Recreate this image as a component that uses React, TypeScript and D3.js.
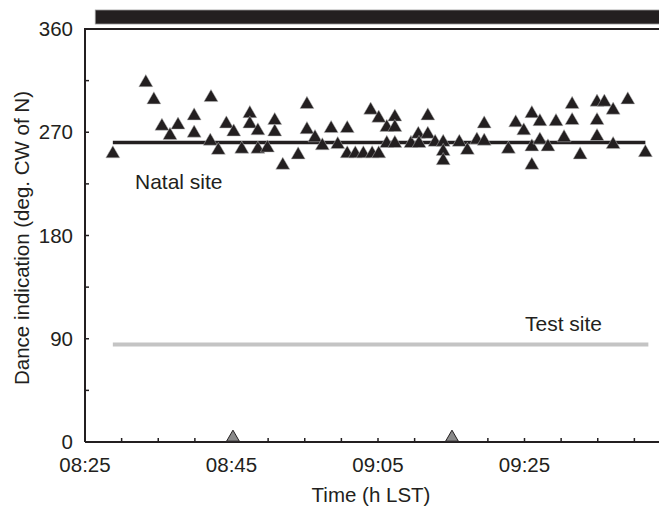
import { useEffect, useRef } from 'react';
import * as d3 from 'd3';

// times are minutes after midnight (08:25 = 505)
const START = 505;
const END = 585;

const danceTimes = [
  3.8, 8.3, 9.4, 10.5, 11.6, 12.7, 14.9, 14.9, 17.2, 17.1, 18.2, 19.3, 20.3, 22.5, 22.5, 21.4,
  23.6, 23.6, 24.9, 25.9, 25.9, 27.0, 29.1, 30.3, 30.3, 31.4, 32.4, 33.6, 34.5, 35.8, 35.8, 36.9,
  38.0, 39.2, 40.1, 39.0, 40.1, 41.2, 42.3, 42.3, 41.2, 42.3, 44.5, 45.5, 45.6, 46.8, 46.8, 47.8,
  48.9, 48.9, 48.9, 51.1, 52.2, 53.5, 54.5, 54.5, 57.8, 58.8, 59.9, 61.0, 62.1, 61.0, 62.1, 63.2,
  61.0, 64.3, 65.4, 66.5, 66.5, 67.6, 69.9, 70.9, 72.1, 69.9, 69.9, 72.1, 74.1, 76.5,
].map((m) => START + m);

const danceAngles = [
  253, 315, 300, 277, 269, 278, 286, 271, 302, 264, 256, 279, 272, 288, 279, 257,
  273, 257, 258, 282, 272, 243, 252, 296, 274, 267, 260, 275, 261, 275, 253, 253,
  253, 253, 253, 291, 284, 276, 285, 276, 262, 262, 262, 270, 262, 286, 270, 263,
  263, 255, 247, 263, 256, 265, 279, 264, 257, 280, 273, 288, 281, 259, 265, 259,
  243, 281, 267, 296, 282, 252, 298, 298, 291, 282, 268, 261, 300, 254,
];

// gray triangles on the time axis
const markerTimes = [START + 20.2, START + 50.1];

// mean bearings
const natalBearing = 261;
const testBearing = 85;
const lineSpan = [START + 3.8, START + 76.5];

// black bar above the plot
const barStart = START + 1.4;

const yTicks = [0, 45, 90, 135, 180, 225, 270, 315, 360];
const yLabels = [0, 90, 180, 270, 360];
const xTicks = d3.range(START, END + 1, 5);
const xLabels = [505, 525, 545, 565];

const fmt = (m: number) => {
  const h = Math.floor(m / 60);
  const mm = m % 60;
  return `${String(h).padStart(2, '0')}:${String(mm).padStart(2, '0')}`;
};

const buildChart = (el: SVGSVGElement) => {
  const svg = d3.select(el);
  svg.selectAll('*').remove();

  const font = 'Liberation Sans, Arial, Helvetica, sans-serif';
  const ink = '#231f20';
  const fs = 20.5;

  const x = d3.scaleLinear().domain([START, END]).range([85, 671]);
  const y = d3.scaleLinear().domain([0, 360]).range([442, 29]);

  // top bar
  svg.append('rect')
    .attr('x', x(barStart))
    .attr('y', 10)
    .attr('width', x(END) - x(barStart))
    .attr('height', 14)
    .attr('fill', ink)
    .attr('stroke', '#999')
    .attr('stroke-width', 0.8);

  // frame: left, top, bottom
  svg.append('path')
    .attr('d', `M${x(START)},${y(0)}V${y(360)}H${x(END)}`)
    .attr('fill', 'none')
    .attr('stroke', ink)
    .attr('stroke-width', 2);
  svg.append('line')
    .attr('x1', x(START)).attr('x2', x(END))
    .attr('y1', y(0)).attr('y2', y(0))
    .attr('stroke', ink).attr('stroke-width', 2);

  // y ticks (inward)
  svg.selectAll('.yt').data(yTicks).enter().append('line')
    .attr('x1', x(START)).attr('x2', x(START) + 4)
    .attr('y1', (d) => y(d)).attr('y2', (d) => y(d))
    .attr('stroke', ink).attr('stroke-width', 1.5);
  svg.selectAll('.yl').data(yLabels).enter().append('text')
    .attr('x', 73).attr('y', (d) => y(d))
    .attr('dy', '0.35em')
    .attr('text-anchor', 'end')
    .attr('font-family', font).attr('font-size', fs).attr('fill', ink)
    .text((d) => d);

  // x ticks (inward)
  svg.selectAll('.xt').data(xTicks).enter().append('line')
    .attr('x1', (d) => x(d)).attr('x2', (d) => x(d))
    .attr('y1', y(0)).attr('y2', y(0) - 4)
    .attr('stroke', ink).attr('stroke-width', 1.5);
  svg.selectAll('.xl').data(xLabels).enter().append('text')
    .attr('x', (d) => x(d)).attr('y', 472)
    .attr('text-anchor', 'middle')
    .attr('font-family', font).attr('font-size', fs).attr('fill', ink)
    .text((d) => fmt(d));

  // axis titles
  svg.append('text')
    .attr('x', 371).attr('y', 502)
    .attr('text-anchor', 'middle')
    .attr('font-family', font).attr('font-size', fs).attr('fill', ink)
    .text('Time (h LST)');
  svg.append('text')
    .attr('transform', 'translate(29,238) rotate(-90)')
    .attr('text-anchor', 'middle')
    .attr('font-family', font).attr('font-size', fs).attr('fill', ink)
    .text('Dance indication (deg. CW of N)');

  // mean lines
  svg.append('line')
    .attr('x1', x(lineSpan[0])).attr('x2', x(lineSpan[1]) + 3)
    .attr('y1', y(testBearing)).attr('y2', y(testBearing))
    .attr('stroke', '#c4c4c4').attr('stroke-width', 4);
  svg.append('line')
    .attr('x1', x(lineSpan[0])).attr('x2', x(lineSpan[1]))
    .attr('y1', y(natalBearing)).attr('y2', y(natalBearing))
    .attr('stroke', ink).attr('stroke-width', 3.5);

  svg.append('text')
    .attr('x', 135).attr('y', 189)
    .attr('font-family', font).attr('font-size', 21).attr('fill', ink)
    .text('Natal site');
  svg.append('text')
    .attr('x', 525).attr('y', 331)
    .attr('font-family', font).attr('font-size', 21).attr('fill', ink)
    .text('Test site');

  // dances
  const tri = d3.symbol().type(d3.symbolTriangle).size(85);
  svg.selectAll('.dance').data(danceTimes).enter().append('path')
    .attr('d', tri)
    .attr('transform', (d, i) => `translate(${x(d)},${y(danceAngles[i]) + 2})`)
    .attr('fill', ink)
    .attr('stroke', '#bbb')
    .attr('stroke-width', 0.5);

  const small = d3.symbol().type(d3.symbolTriangle).size(70);
  svg.selectAll('.marker').data(markerTimes).enter().append('path')
    .attr('d', small)
    .attr('transform', (d) => `translate(${x(d)},${y(0) - 4.5})`)
    .attr('fill', '#8a8a8a')
    .attr('stroke', ink)
    .attr('stroke-width', 1);
};

const App = () => {
  const ref = useRef<SVGSVGElement>(null);

  useEffect(() => {
    if (ref.current) buildChart(ref.current);
  }, []);

  return (
    <svg
      ref={ref}
      width={659}
      height={506}
      style={{ position: 'absolute', left: 0, top: 0, background: '#fff' }}
    />
  );
};

export default App;
